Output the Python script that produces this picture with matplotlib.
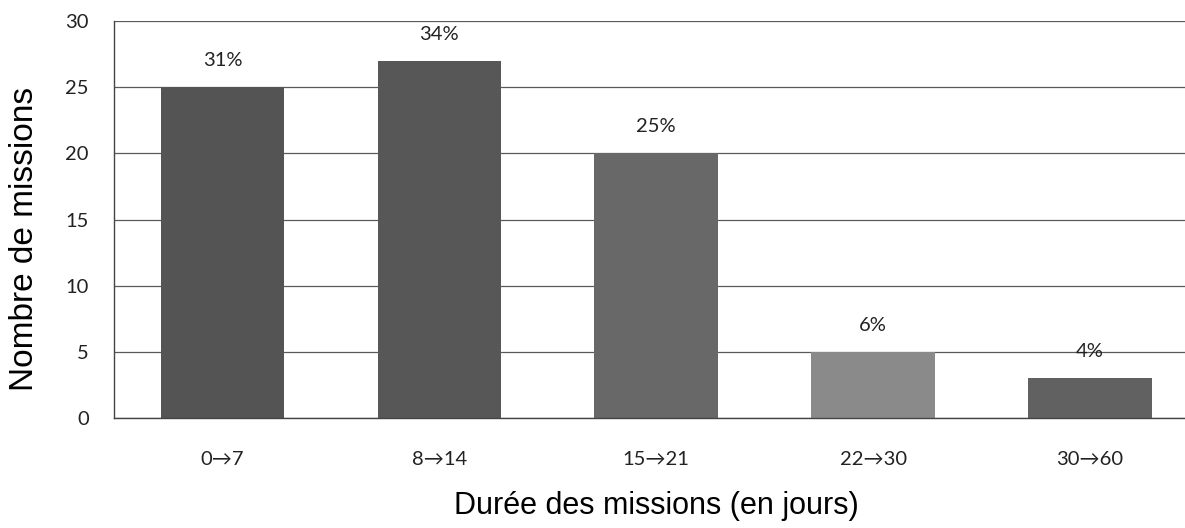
import matplotlib.pyplot as plt
import numpy as np

categories = ['0→7', '8→14', '15→21', '22→30', '30→60']
missions = [25, 27, 20, 5, 3]
percent_labels = ['31%', '34%', '25%', '6%', '4%']
bar_colors = ['#545454', '#575757', '#686868', '#8a8a8a', '#616161']

tick_font = ['Lato', 'DejaVu Sans']
label_font = ['Liberation Sans', 'DejaVu Sans']

fig = plt.figure(figsize=(11.85, 5.28), dpi=100)
ax = fig.add_axes([0.0962, 0.2083, 0.9151, 0.7519])

x = np.arange(len(categories))
bars = ax.bar(x, missions, width=0.57, color=bar_colors, zorder=2)

for xi, val, lab in zip(x, missions, percent_labels):
    ax.annotate(lab, (xi, val), xytext=(0, 13), textcoords='offset points',
                ha='center', va='bottom', fontsize=14.5, family=tick_font,
                color='#222222')

ax.set_xlim(-0.5, 4.5)
ax.set_ylim(0, 30)
ax.set_yticks(range(0, 31, 5))
ax.set_xticks(x)
ax.set_xticklabels(categories, family=tick_font, fontsize=14.5)
for t in ax.get_yticklabels():
    t.set_family(tick_font)
    t.set_fontsize(14.5)
ax.tick_params(axis='both', length=0, colors='#222222')
ax.tick_params(axis='x', pad=24)
ax.tick_params(axis='y', pad=18)

ax.yaxis.grid(True, color='#5a5a5a', linewidth=0.9, zorder=0)
ax.set_axisbelow(True)
for side in ('top', 'right'):
    ax.spines[side].set_visible(False)
for side in ('left', 'bottom'):
    ax.spines[side].set_color('#444444')
    ax.spines[side].set_linewidth(1.0)

ax.set_ylabel('Nombre de missions', family=label_font, fontsize=24)
ax.yaxis.set_label_coords(-0.068, 0.45)
ax.set_xlabel('Durée des missions (en jours)', family=label_font, fontsize=22, labelpad=16)

fig.savefig('out.png', dpi=100)
